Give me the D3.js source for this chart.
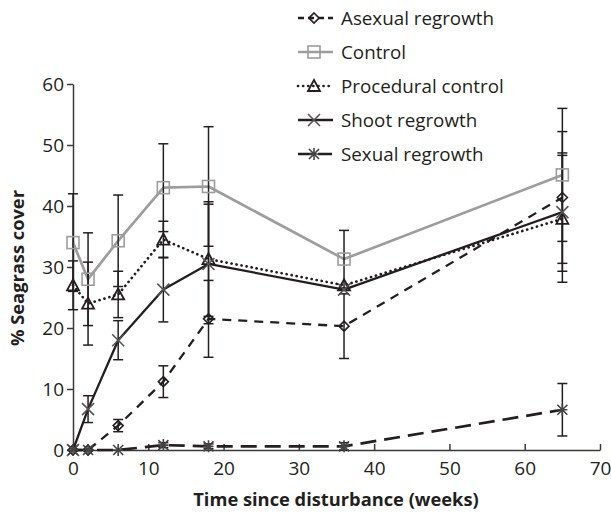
<!DOCTYPE html>
<html>
<head>
<meta charset="utf-8">
<script src="https://cdn.jsdelivr.net/npm/d3@7"></script>
<style>
  html, body { margin: 0; padding: 0; background: #fff; }
  svg { display: block; }
  text { font-family: "Open Sans", "Noto Sans", sans-serif; fill: #231f20; }
</style>
</head>
<body>
<svg id="chart" width="611" height="517"></svg>
<script>
// ---- data ----
const weeks = [0, 2, 6, 12, 18, 36, 65];

const asexualValues     = [0, 0, 4.0, 11.2, 21.5, 20.3, 41.4];
const asexualErrors     = [0, 0, 1.0, 2.6, 6.3, 5.3, 10.8];
const controlValues     = [34.0, 28.0, 34.3, 43.0, 43.2, 31.3, 45.1];
const controlErrors     = [8.0, 7.6, 7.5, 7.2, 9.8, 4.7, 10.9];
const proceduralValues  = [27.0, 24.0, 25.5, 34.5, 31.3, 27.0, 37.9];
const proceduralErrors  = [4.0, 6.8, 3.8, 3.0, 9.4, 0, 10.4];
const shootValues       = [0, 6.7, 18.0, 26.3, 30.5, 26.3, 39.0];
const shootErrors       = [0, 2.2, 3.2, 5.3, 9.8, 0, 9.7];
const sexualValues      = [0, 0, 0, 0.8, 0.6, 0.6, 6.6];
const sexualErrors      = [0, 0, 0, 0.4, 0.4, 0.6, 4.3];

const seriesNames = ["Asexual regrowth", "Control", "Procedural control", "Shoot regrowth", "Sexual regrowth"];
const xTicks = [0, 10, 20, 30, 40, 50, 60, 70];
const yTicks = [0, 10, 20, 30, 40, 50, 60];
const xTitle = "Time since disturbance (weeks)";
const yTitle = "% Seagrass cover";

// ---- styling per series (not data) ----
const styles = {
  "Asexual regrowth":   {color: "#231f20", width: 2.3, dash: "9,7", legendDash: "6,4", marker: "diamond"},
  "Control":            {color: "#9d9d9d", width: 2.7, dash: null, marker: "square"},
  "Procedural control": {color: "#231f20", width: 2.7, dash: "0.1,5", legendDash: "0.1,5", cap: "round", marker: "triangle"},
  "Shoot regrowth":     {color: "#231f20", width: 2.3, dash: null, marker: "cross"},
  "Sexual regrowth":    {color: "#231f20", width: 2.7, dash: "16,8", legendDash: "14,6", marker: "star"}
};

const series = [
  {name: seriesNames[0], values: asexualValues, errors: asexualErrors},
  {name: seriesNames[1], values: controlValues, errors: controlErrors},
  {name: seriesNames[2], values: proceduralValues, errors: proceduralErrors},
  {name: seriesNames[3], values: shootValues, errors: shootErrors},
  {name: seriesNames[4], values: sexualValues, errors: sexualErrors}
];

const svg = d3.select("#chart");
const x = d3.scaleLinear().domain([0, 70]).range([73, 600]);
const y = d3.scaleLinear().domain([0, 60]).range([450, 84]);

// ---- axes ----
const axisColor = "#3a3a3a";
const xAxis = svg.append("g").attr("transform", "translate(0,450)")
  .call(d3.axisBottom(x).tickValues(xTicks).tickSize(6).tickSizeOuter(0).tickPadding(6));
const yAxis = svg.append("g").attr("transform", "translate(73,0)")
  .call(d3.axisLeft(y).tickValues(yTicks).tickSize(6).tickSizeOuter(0).tickPadding(3));
[xAxis, yAxis].forEach(g => {
  g.select(".domain").attr("stroke", axisColor).attr("stroke-width", 1.5);
  g.selectAll(".tick line").attr("stroke", axisColor).attr("stroke-width", 1.5);
  g.selectAll(".tick text").style("font-size", "19px").attr("fill", "#231f20")
    .style("font-family", "'Open Sans', sans-serif");
});
xAxis.selectAll(".tick line").attr("y1", 0).attr("y2", -6);
yAxis.selectAll(".tick line").attr("x1", 0).attr("x2", -6);

svg.append("text").attr("x", 336).attr("y", 506).attr("text-anchor", "middle")
  .style("font-size", "18.3px").style("font-weight", "bold").text(xTitle);
svg.append("text").attr("transform", "translate(24,268) rotate(-90)").attr("text-anchor", "middle")
  .style("font-size", "18.3px").style("font-weight", "bold").text(yTitle);

// ---- markers ----
function drawMarker(g, type, cx, cy, color) {
  if (type === "diamond") {
    g.append("path").attr("d", `M${cx},${cy-5}L${cx+5},${cy}L${cx},${cy+5}L${cx-5},${cy}Z`)
      .attr("fill", "none").attr("stroke", color).attr("stroke-width", 1.6);
  } else if (type === "square") {
    g.append("rect").attr("x", cx-6).attr("y", cy-6).attr("width", 12).attr("height", 12)
      .attr("fill", "none").attr("stroke", color).attr("stroke-width", 1.6);
  } else if (type === "triangle") {
    g.append("path").attr("d", `M${cx},${cy-6}L${cx+6},${cy+5}L${cx-6},${cy+5}Z`)
      .attr("fill", "none").attr("stroke", color).attr("stroke-width", 1.8);
  } else if (type === "cross") {
    g.append("path").attr("d", `M${cx-6},${cy-6}L${cx+6},${cy+6}M${cx-6},${cy+6}L${cx+6},${cy-6}`)
      .attr("stroke", "#555").attr("stroke-width", 1.6);
  } else if (type === "star") {
    g.append("path").attr("d", `M${cx-5},${cy-5}L${cx+5},${cy+5}M${cx-5},${cy+5}L${cx+5},${cy-5}M${cx},${cy-6}L${cx},${cy+6}M${cx-5},${cy}L${cx+5},${cy}`)
      .attr("stroke", "#444").attr("stroke-width", 1.6);
  }
}

const line = d3.line().x(d => x(d.w)).y(d => y(d.v));

series.forEach(s => {
  const st = styles[s.name];
  const pts = weeks.map((w, i) => ({w, v: s.values[i], e: s.errors[i]}));
  const g = svg.append("g");
  g.append("path").datum(pts).attr("d", line).attr("fill", "none")
    .attr("stroke", st.color).attr("stroke-width", st.width)
    .attr("stroke-dasharray", st.dash).attr("stroke-linecap", st.cap || "butt")
    .attr("stroke-linejoin", "round");
  // error bars
  pts.filter(p => p.e > 0).forEach(p => {
    const cx = x(p.w);
    g.append("line").attr("x1", cx).attr("x2", cx).attr("y1", y(p.v + p.e)).attr("y2", y(p.v - p.e))
      .attr("stroke", "#231f20").attr("stroke-width", 1.5);
    [p.v + p.e, p.v - p.e].forEach(v => {
      g.append("line").attr("x1", cx - 5).attr("x2", cx + 5).attr("y1", y(v)).attr("y2", y(v))
        .attr("stroke", "#231f20").attr("stroke-width", 1.5);
    });
  });
  s.pts = pts;
});
series.forEach(s => {
  const st = styles[s.name];
  const g = svg.append("g");
  s.pts.forEach(p => drawMarker(g, st.marker, x(p.w), y(p.v), st.color));
});

// ---- legend ----
const legend = svg.append("g");
series.forEach((s, i) => {
  const st = styles[s.name];
  const ly = 18 + i * 34;
  legend.append("line").attr("x1", 298).attr("x2", 333).attr("y1", ly).attr("y2", ly)
    .attr("stroke", st.color).attr("stroke-width", st.width)
    .attr("stroke-dasharray", st.legendDash || null)
    .attr("stroke-linecap", st.cap || "butt");
  drawMarker(legend, st.marker, 314, ly, st.color);
  legend.append("text").attr("x", 341).attr("y", ly).attr("dy", "0.35em")
    .style("font-size", "18.8px").text(s.name);
});
</script>
</body>
</html>
